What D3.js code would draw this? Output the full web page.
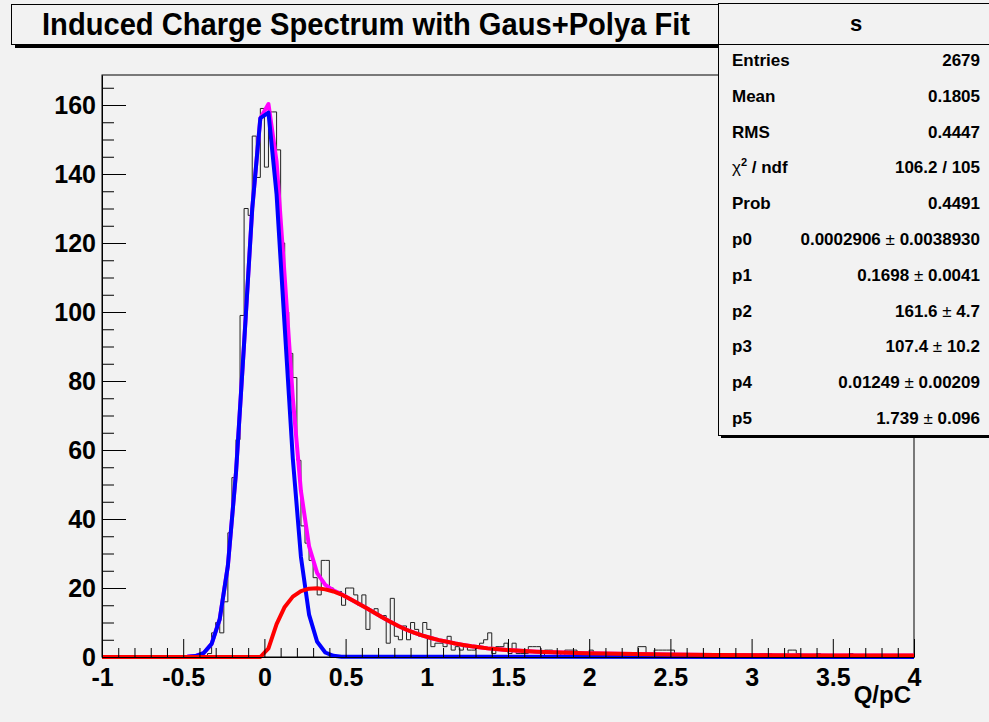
<!DOCTYPE html>
<html><head><meta charset="utf-8">
<script src="https://cdn.jsdelivr.net/npm/d3@7/dist/d3.min.js"></script>
<style>body{margin:0;background:#f2f2f2} svg{display:block}</style>
</head><body>
<script>
// ---------------- DATA ----------------
const histLow = -1, histHigh = 4, binWidth = 0.025;
// counts per bin (200 bins of 0.025 from -1 to 4)
const counts = [
  0,0,0,0,0,0,0,0,0,0,          // -1.000 .. -0.775
  0,0,0,0,0,0,0,0,0,0,          // -0.750 .. -0.525
  0,0,0,0,0,0,1,7,10,7,         // -0.500 .. -0.275
  16,36,52,63,99,130,128,151,139,159, // -0.250 .. -0.025
  142,158,158,147,120,100,88,81,57,38, // 0.000 .. 0.225
  33,28,23,18,28,28,20,19,19,15,       // 0.250 .. 0.475
  20,20,18,15,18,8,13,14,12,12,        // 0.500 .. 0.725
  4,17,6,5,9,5,10,8,6,10,              // 0.750 .. 0.975
  8,3,4,4,3,6,2,3,2,3,                 // 1.000 .. 1.225
  2,2,3,4,5,7,1,3,3,4,                 // 1.250 .. 1.475
  1,4,1,1,1,3,3,3,0,2,                 // 1.500 .. 1.725
  2,1,1,0,2,2,2,1,0,1,                 // 1.750 .. 1.975
  2,0,1,0,1,0,0,0,1,1,                 // 2.000 .. 2.225
  0,0,3,3,0,0,2,2,2,2,                 // 2.250 .. 2.475
  2,0,0,0,1,0,0,0,1,1,                 // 2.500 .. 2.725
  1,0,0,0,0,1,0,0,0,0,                 // 2.750 .. 2.975
  0,0,1,1,1,0,0,0,0,2,                 // 3.000 .. 3.225
  2,1,0,0,0,0,1,0,0,0,                 // 3.250 .. 3.475
  0,0,0,0,1,0,0,0,0,0,                 // 3.500 .. 3.725
  0,0,0,0,0,0,0,0,0,0                  // 3.750 .. 3.975
];

// Gaussian component (blue)
const gausX = [-1,-0.475,-0.425,-0.375,-0.325,-0.275,-0.225,-0.175,-0.125,-0.075,-0.025,
               0.025,0.075,0.125,0.175,0.225,0.275,0.325,0.375,0.425,0.475,4];
const gausY = [0,0.06,0.28,1.1,3.8,11,26.4,53.4,90.9,129.9,156.2,
               157.8,134.1,95.7,57.5,29,12.3,4.4,1.3,0.33,0.07,0];

// Polya component (red)
const polyaX = [-1,-0.025,0.025,0.075,0.125,0.175,0.225,0.275,0.325,0.375,0.425,0.475,
                0.525,0.575,0.625,0.675,0.725,0.775,0.825,0.875,0.925,0.975,
                1.025,1.075,1.125,1.175,1.225,1.275,1.325,1.375,1.425,1.475,
                1.525,1.575,1.675,1.775,1.875,1.975,2.175,2.475,2.775,3.075,3.475,3.975,4];
const polyaY = [0,0,2.5,9.5,14.5,17.5,19.1,19.8,19.9,19.6,19.0,18.1,
                16.9,15.6,14.3,12.9,11.5,10.2,9.0,7.9,7.0,6.2,
                5.5,4.9,4.4,3.9,3.5,3.1,2.8,2.5,2.3,2.1,
                1.95,1.8,1.55,1.4,1.25,1.12,0.95,0.72,0.55,0.5,0.45,0.4,0.4];

// Total Gaus+Polya fit (magenta)
const totalX = [-1,-0.475,-0.425,-0.375,-0.325,-0.275,-0.225,-0.175,-0.125,-0.075,-0.025,
                0.025,0.075,0.125,0.175,0.225,0.275,0.325,0.375,0.425,0.475,
                0.525,0.575,0.625,0.675,0.725,0.775,0.825,0.875,0.925,0.975,
                1.025,1.075,1.125,1.175,1.225,1.275,1.325,1.375,1.425,1.475,
                1.525,1.575,1.675,1.775,1.875,1.975,2.175,2.475,2.775,3.075,3.475,3.975,4];
const totalY = [0,0.06,0.28,1.1,3.8,11,26.4,53.4,90.9,129.9,156.2,
                160.3,143.6,110.2,75.0,48.1,32.1,24.3,20.9,19.3,18.2,
                16.9,15.6,14.3,12.9,11.5,10.2,9.0,7.9,7.0,6.2,
                5.5,4.9,4.4,3.9,3.5,3.1,2.8,2.5,2.3,2.1,
                1.95,1.8,1.55,1.4,1.25,1.12,0.95,0.72,0.55,0.5,0.45,0.4,0.4];

const xTicks = [-1,-0.5,0,0.5,1,1.5,2,2.5,3,3.5,4];
const xTickLabels = ["-1","-0.5","0","0.5","1","1.5","2","2.5","3","3.5","4"];
const yTicks = [0,20,40,60,80,100,120,140,160];
const yTickLabels = ["0","20","40","60","80","100","120","140","160"];

const titleText = "Induced Charge Spectrum with Gaus+Polya Fit";
const xAxisTitle = "Q/pC";
const statsTitle = "s";
const statsNames = ["Entries","Mean","RMS","χ2 / ndf","Prob","p0","p1","p2","p3","p4","p5"];
const statsValues = ["2679","0.1805","0.4447","106.2 / 105","0.4491",
  "0.0002906 ± 0.0038930","0.1698 ± 0.0041","161.6 ± 4.7","107.4 ± 10.2",
  "0.01249 ± 0.00209","1.739 ± 0.096"];

// ---------------- DRAW ----------------
const W = 989, H = 722;
const FONT = "'Liberation Sans', Arial, Helvetica, sans-serif";
const svg = d3.select("body").append("svg").attr("width", W).attr("height", H);
svg.append("rect").attr("width", W).attr("height", H).attr("fill", "#f2f2f2");

const plot = {l: 102, r: 914, t: 75, b: 657};
const x = d3.scaleLinear().domain([histLow, histHigh]).range([plot.l, plot.r]);
const y = d3.scaleLinear().domain([0, 168.7]).range([plot.b, plot.t]);

// frame
svg.append("rect").attr("x", plot.l).attr("y", plot.t)
  .attr("width", plot.r - plot.l).attr("height", plot.b - plot.t)
  .attr("fill", "none").attr("stroke", "#000").attr("stroke-width", 1);

// histogram
const histPts = counts.map((c, i) => [histLow + i * binWidth, c]);
histPts.push([histHigh, counts[counts.length - 1]]);
svg.append("path")
  .attr("d", d3.line().x(d => x(d[0])).y(d => y(d[1])).curve(d3.curveStepAfter)(histPts))
  .attr("fill", "none").attr("stroke", "#222").attr("stroke-width", 1);

// curves
const lineGen = d3.line().x(d => x(d[0])).y(d => y(d[1]));
function curve(xs, ys, color) {
  svg.append("path").attr("d", lineGen(xs.map((v, i) => [v, ys[i]])))
    .attr("fill", "none").attr("stroke", color).attr("stroke-width", 4)
    .attr("stroke-linejoin", "round");
}
curve(totalX, totalY, "#ff00ff");
curve(gausX, gausY, "#0000ff");
curve(polyaX, polyaY, "#ff0000");

// y axis
const yAxis = d3.axisLeft(y).tickValues(yTicks).tickFormat((d, i) => yTickLabels[i])
  .tickSizeInner(-24).tickSizeOuter(0).tickPadding(6);
const gy = svg.append("g").attr("transform", `translate(${plot.l},0)`).call(yAxis);
gy.select(".domain").attr("stroke", "#000");
gy.selectAll(".tick line").attr("stroke", "#000");
gy.selectAll("text").attr("font-family", FONT).attr("font-weight", "bold")
  .attr("font-size", 25).attr("fill", "#000");
const yMinor = d3.range(0, 168, 5).filter(v => v % 20 !== 0);
svg.append("g").attr("transform", `translate(${plot.l},0)`)
  .call(d3.axisLeft(y).tickValues(yMinor).tickFormat("").tickSizeInner(-12).tickSizeOuter(0))
  .call(g => g.select(".domain").remove())
  .selectAll("line").attr("stroke", "#000");

// x axis
const xAxis = d3.axisBottom(x).tickValues(xTicks).tickFormat((d, i) => xTickLabels[i])
  .tickSizeInner(-18).tickSizeOuter(0).tickPadding(11);
const gx = svg.append("g").attr("transform", `translate(0,${plot.b})`).call(xAxis);
gx.select(".domain").attr("stroke", "#000");
gx.selectAll(".tick line").attr("stroke", "#000");
gx.selectAll("text").attr("font-family", FONT).attr("font-weight", "bold")
  .attr("font-size", 25).attr("fill", "#000");
const xMinor = d3.range(-10, 41).map(v => v / 10).filter(v => Math.abs(v * 2 - Math.round(v * 2)) > 1e-6);
svg.append("g").attr("transform", `translate(0,${plot.b})`)
  .call(d3.axisBottom(x).tickValues(xMinor).tickFormat("").tickSizeInner(-9).tickSizeOuter(0))
  .call(g => g.select(".domain").remove())
  .selectAll("line").attr("stroke", "#000");

svg.append("text").attr("x", 911).attr("y", 703).attr("text-anchor", "end")
  .attr("font-family", FONT).attr("font-weight", "bold").attr("font-size", 24)
  .text(xAxisTitle);

// title box
svg.append("rect").attr("x", 15).attr("y", 8).attr("width", 709).attr("height", 40).attr("fill", "#000");
svg.append("rect").attr("x", 11.5).attr("y", 4.5).attr("width", 709).attr("height", 40)
  .attr("fill", "#f2f2f2").attr("stroke", "#000").attr("stroke-width", 1);
svg.append("text").attr("x", 366).attr("y", 35).attr("text-anchor", "middle")
  .attr("font-family", FONT).attr("font-weight", "bold").attr("font-size", 31)
  .attr("textLength", 648).attr("lengthAdjust", "spacingAndGlyphs")
  .text(titleText);

// stats box
svg.append("rect").attr("x", 721).attr("y", 6).attr("width", 270).attr("height", 432).attr("fill", "#000");
svg.append("rect").attr("x", 718.5).attr("y", 3.5).attr("width", 275).attr("height", 432)
  .attr("fill", "#f2f2f2").attr("stroke", "#000").attr("stroke-width", 1);
svg.append("line").attr("x1", 718.5).attr("x2", 989).attr("y1", 44.5).attr("y2", 44.5)
  .attr("stroke", "#000");
svg.append("text").attr("x", 856).attr("y", 31).attr("text-anchor", "middle")
  .attr("font-family", FONT).attr("font-weight", "bold").attr("font-size", 22).text(statsTitle);

const rowY = i => 66 + i * 35.8;
statsNames.forEach((n, i) => {
  const t = svg.append("text").attr("x", 732).attr("y", rowY(i))
    .attr("font-family", FONT).attr("font-weight", "bold").attr("font-size", 17);
  if (n.startsWith("χ2")) {
    t.append("tspan").attr("font-weight", "normal").text("χ");
    t.append("tspan").attr("font-size", 11).attr("dy", -7).text("2");
    t.append("tspan").attr("dy", 7).text(n.slice(2));
  } else t.text(n);
});
statsValues.forEach((v, i) => {
  const t = svg.append("text").attr("x", 980).attr("y", rowY(i)).attr("text-anchor", "end")
    .attr("font-family", FONT).attr("font-weight", "bold").attr("font-size", 17);
  const parts = v.split("±");
  if (parts.length === 2) {
    t.append("tspan").text(parts[0]);
    t.append("tspan").attr("font-weight", "normal").text("±");
    t.append("tspan").text(parts[1]);
  } else t.text(v);
});
</script>
</body></html>
